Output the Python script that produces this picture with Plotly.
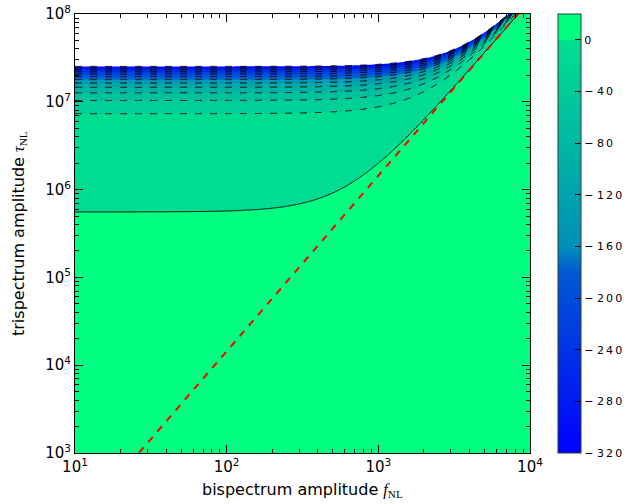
import numpy as np
import plotly.graph_objects as go

# ---- axis extents (powers of ten) -------------------------------------
FNL_DECADES = [1, 2, 3, 4]
TAU_DECADES = [3, 4, 5, 6, 7, 8]
FNL_TICKTEXT = ["10<sup>1</sup>", "10<sup>2</sup>", "10<sup>3</sup>", "10<sup>4</sup>"]
TAU_TICKTEXT = ["10<sup>3</sup>", "10<sup>4</sup>", "10<sup>5</sup>",
                "10<sup>6</sup>", "10<sup>7</sup>", "10<sup>8</sup>"]
X_LABEL = 'bispectrum amplitude <span style="font-family:Liberation Serif"><i>f</i><sub>NL</sub></span>'
Y_LABEL = 'trispectrum amplitude <span style="font-family:Liberation Serif"><i>\u03c4</i><sub>NL</sub></span>'

# ---- likelihood model for the trispectrum excess tau_NL - (6/5 f_NL)^2 ----
TAU_SIGMA = 1.0e6          # width of the Gaussian in tau_NL
LOGL_PEAK = 0.155          # log-likelihood at zero excess
CONSISTENCY = (6.0 / 5.0) ** 2   # tau_NL >= (6/5 f_NL)^2

# ---- contour levels and colour bar -------------------------------------
LEVEL_MIN = -320.0
LEVEL_MAX = 0.0
N_STEPS = 12
CBAR_MIN, CBAR_MAX = -320.0, 20.0
CBAR_TICKS = [0, -40, -80, -120, -160, -200, -240, -280, -320]
CBAR_TICKTEXT = ["0", "\u2212 4\u20090", "\u2212 8\u20090", "\u2212 1\u20092\u20090",
                 "\u2212 1\u20096\u20090", "\u2212 2\u20090\u20090", "\u2212 2\u20094\u20090",
                 "\u2212 2\u20098\u20090", "\u2212 3\u20092\u20090"]

# ---- evaluation grid (log-spaced) --------------------------------------
lx = np.linspace(FNL_DECADES[0], FNL_DECADES[-1], 361)
ly = np.linspace(TAU_DECADES[0], TAU_DECADES[-1], 601)
F, T = np.meshgrid(10.0 ** lx, 10.0 ** ly)
excess = T - CONSISTENCY * F ** 2
logl = np.where(excess > 0, LOGL_PEAK - excess ** 2 / (2 * TAU_SIGMA ** 2), LOGL_PEAK)

step = (LEVEL_MAX - LEVEL_MIN) / N_STEPS


def winter(t):
    t = min(max(t, 0.0), 1.0)
    return "rgb(0,%d,%d)" % (round(255 * t), round(255 - 127.5 * t))


def cbar_t(v):
    """Colour-map coordinate for a value on the colour bar."""
    if v > 0:
        return 1.0
    if v >= -160:
        return 0.56 + 0.32 * (v + 160) / 160
    return 0.40 * (v + 320) / 160


# continuous scale for the colour bar
cb_vals = list(np.linspace(CBAR_MIN, -160, 9)) + list(np.linspace(-159.99, 0, 9)) + [0.01, CBAR_MAX]
cbar_scale = [[(v - CBAR_MIN) / (CBAR_MAX - CBAR_MIN), winter(cbar_t(v))] for v in cb_vals]

# stepwise scale for filled bands (band 0 = below lowest level -> blank)
n_levels = N_STEPS + 1
band_scale = []
for j in range(n_levels + 1):
    if j == 0:
        col = "white"
    elif j == n_levels:
        col = winter(1.0)
    else:
        col = winter(cbar_t(LEVEL_MIN + (j - 0.3) * step))
    lo = max(0.0, (j - 0.5) / n_levels)
    hi = min(1.0, (j + 0.5) / n_levels)
    band_scale += [[lo, col], [hi, col]]

black = [[0, "black"], [1, "black"]]

fig = go.Figure()

fig.add_trace(go.Contour(
    x=lx, y=ly, z=logl,
    contours=dict(start=LEVEL_MIN, end=LEVEL_MAX, size=step, coloring="fill", showlines=False),
    colorscale=band_scale, showscale=False, line=dict(width=0), hoverinfo="skip",
))

# negative levels: dashed
fig.add_trace(go.Contour(
    x=lx, y=ly, z=logl,
    contours=dict(start=LEVEL_MIN, end=LEVEL_MAX - step, size=step, coloring="lines"),
    colorscale=black, showscale=False,
    line=dict(width=1, dash="7px,8px", smoothing=0.6), hoverinfo="skip",
))

# zero level: solid
fig.add_trace(go.Contour(
    x=lx, y=ly, z=logl,
    contours=dict(start=LEVEL_MAX, end=LEVEL_MAX + 1, size=10, coloring="lines"),
    colorscale=black, showscale=False,
    line=dict(width=1, smoothing=0.6), hoverinfo="skip",
))

# consistency relation tau_NL = (6/5 f_NL)^2
fnl_line = np.logspace(FNL_DECADES[0], FNL_DECADES[-1], 200)
tau_line = CONSISTENCY * fnl_line ** 2
fig.add_trace(go.Scatter(
    x=np.log10(fnl_line), y=np.log10(tau_line), mode="lines",
    line=dict(color="red", width=2, dash="7px,7px"),
    showlegend=False, hoverinfo="skip",
))

# colour bar
L, R, TOP, BOT = 75, 530, 14, 453
W, H = 644, 504
PW, PH = R - L, BOT - TOP
fig.add_trace(go.Scatter(
    x=[None], y=[None], mode="markers", showlegend=False, hoverinfo="skip",
    marker=dict(
        color=[0], colorscale=cbar_scale, cmin=CBAR_MIN, cmax=CBAR_MAX, showscale=True,
        colorbar=dict(
            x=(558 - L) / PW, xanchor="left", xpad=0, ypad=0,
            y=0.5, yanchor="middle", len=1, lenmode="fraction",
            thickness=23, thicknessmode="pixels",
            outlinewidth=1, outlinecolor="#2f3a3a",
            tickmode="array", tickvals=CBAR_TICKS, ticktext=CBAR_TICKTEXT,
            ticks="inside", ticklen=6, tickcolor="black", tickwidth=1,
            tickfont=dict(family="DejaVu Sans", size=11, color="black"),
        ),
    ),
))


def minor_vals(decades):
    out = []
    for d in decades[:-1]:
        for k in range(2, 10):
            out.append(d + np.log10(k))
    return out


axis_common = dict(
    showgrid=False, zeroline=False, showline=True, linecolor="black", linewidth=1,
    mirror="allticks", ticks="inside", ticklen=8, tickwidth=1, tickcolor="black",
    tickfont=dict(family="DejaVu Sans", size=15, color="black"),
)

fig.update_xaxes(
    range=[FNL_DECADES[0], FNL_DECADES[-1]], tickmode="array",
    tickvals=FNL_DECADES, ticktext=FNL_TICKTEXT,
    minor=dict(tickmode="array", tickvals=minor_vals(FNL_DECADES), ticks="inside",
               ticklen=4, tickcolor="black", showgrid=False),
    **axis_common,
)
fig.update_yaxes(
    range=[TAU_DECADES[0], TAU_DECADES[-1]], tickmode="array",
    tickvals=TAU_DECADES, ticktext=TAU_TICKTEXT,
    minor=dict(tickmode="array", tickvals=minor_vals(TAU_DECADES), ticks="inside",
               ticklen=4, tickcolor="black", showgrid=False),
    **axis_common,
)

title_font = dict(family="DejaVu Sans", size=16, color="black")
fig.add_annotation(text=X_LABEL, xref="paper", yref="paper",
                   x=(302 - L) / PW, y=(BOT - 490) / PH, xanchor="center", yanchor="middle",
                   showarrow=False, font=title_font)
fig.add_annotation(text=Y_LABEL, xref="paper", yref="paper", textangle=-90,
                   x=(19 - L) / PW, y=(BOT - 234) / PH, xanchor="center", yanchor="middle",
                   showarrow=False, font=title_font)

fig.update_layout(
    width=W, height=H,
    margin=dict(l=L, r=W - R, t=TOP, b=H - BOT, autoexpand=False),
    paper_bgcolor="white", plot_bgcolor="white",
    showlegend=False,
)

fig.write_html("out.html")
